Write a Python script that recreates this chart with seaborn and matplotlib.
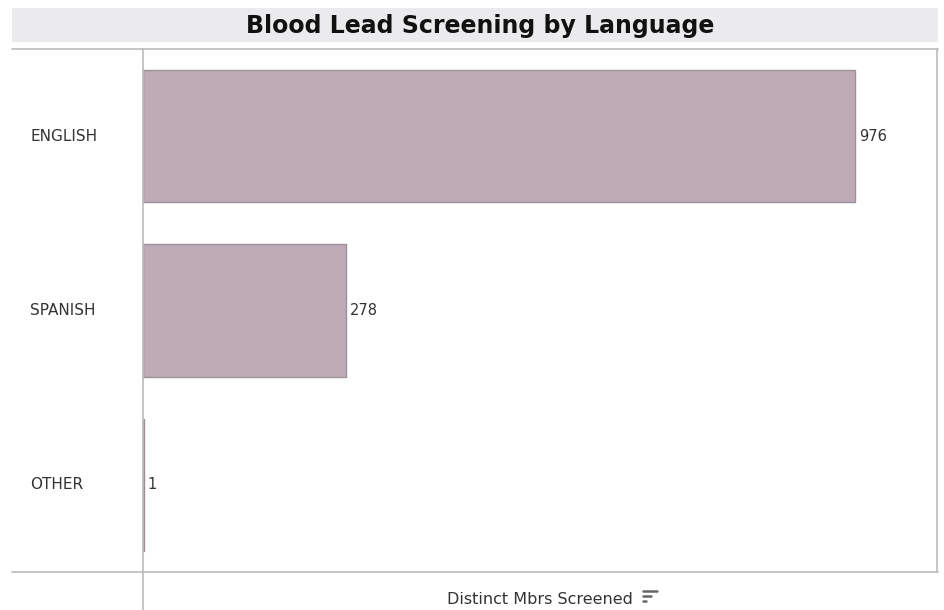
import matplotlib
matplotlib.use("Agg")
import matplotlib.pyplot as plt
from matplotlib.patches import Rectangle
from matplotlib.lines import Line2D
from matplotlib.transforms import blended_transform_factory
import seaborn as sns
import pandas as pd

languages = ["ENGLISH", "SPANISH", "OTHER"]
screened = [976, 278, 1]

df = pd.DataFrame({"Language": languages, "Screened": screened})

sns.set_style("white")
plt.rcParams["font.family"] = ["DejaVu Sans"]

W, H = 944, 610
fig = plt.figure(figsize=(W / 100, H / 100), dpi=100)

def fx(px):
    return px / W

def fy(py):
    return 1 - py / H

# title band
fig.patches.append(Rectangle((fx(12), fy(42)), fx(938) - fx(12), fy(8) - fy(42),
                             transform=fig.transFigure, facecolor="#EBEBEE",
                             edgecolor="none", zorder=0))
fig.text(fx(480), fy(26), "Blood Lead Screening by Language", ha="center", va="center",
         fontsize=17, fontweight="bold", color="#111111")

left, right, top, bottom = 143, 937, 49, 572
ax = fig.add_axes([fx(left), fy(bottom), fx(right) - fx(left), fy(top) - fy(bottom)])

sns.barplot(data=df, y="Language", x="Screened", orient="h", ax=ax,
            color="#BEABB5", saturation=1, width=0.76,
            edgecolor="#9E9098", linewidth=1.0)

ax.set_xlim(0, 1088)
ax.set_ylim(2.5, -0.5)
ax.set_xticks([])
ax.set_xlabel("")
ax.set_ylabel("")
ax.tick_params(axis="y", length=0, pad=0)
ax.set_yticks(range(len(languages)))
ax.set_yticklabels([])

# category labels, left aligned at the card's inner margin
lab_tf = blended_transform_factory(fig.transFigure, ax.transData)
for i, lab in enumerate(languages):
    ax.text(fx(30), i, lab, transform=lab_tf, ha="left", va="center",
            fontsize=11, color="#333333")

# value labels at the bar ends
for i, v in enumerate(screened):
    ax.text(v + 5, i, f"{v}", ha="left", va="center", fontsize=10.5, color="#333333")

for s in ["top", "bottom", "left", "right"]:
    ax.spines[s].set_visible(False)

line_col = "#BBBBBB"
fig.add_artist(Line2D([fx(12), fx(938)], [fy(49), fy(49)], color=line_col, lw=1.2))
fig.add_artist(Line2D([fx(12), fx(938)], [fy(572), fy(572)], color=line_col, lw=1.2))
fig.add_artist(Line2D([fx(937), fx(937)], [fy(49), fy(572)], color=line_col, lw=1.2))
fig.add_artist(Line2D([fx(143), fx(143)], [fy(49), fy(610)], color=line_col, lw=1.2))

fig.text(fx(540), fy(600), "Distinct Mbrs Screened", ha="center", va="center",
         fontsize=11.5, color="#333333")
# sort icon
icon_col = "#666666"
fig.add_artist(Line2D([fx(643), fx(657)], [fy(591), fy(591)], color=icon_col, lw=1.8))
fig.add_artist(Line2D([fx(643), fx(651)], [fy(596), fy(596)], color=icon_col, lw=1.8))
fig.add_artist(Line2D([fx(643), fx(646)], [fy(601), fy(601)], color=icon_col, lw=1.8))

fig.savefig("out.png", dpi=100, facecolor="white")
